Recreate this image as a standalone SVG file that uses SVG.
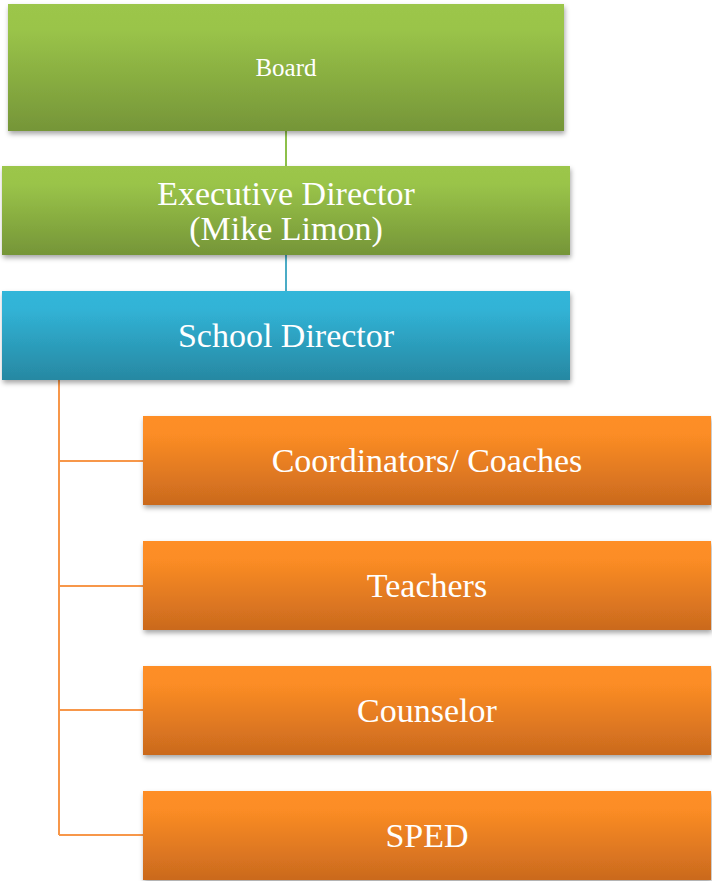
<svg xmlns="http://www.w3.org/2000/svg" width="712" height="881" viewBox="0 0 712 881">
  <defs>
    <linearGradient id="gGreen" x1="0" y1="0" x2="0" y2="1">
      <stop offset="0" stop-color="#9CC64B"/>
      <stop offset="0.2" stop-color="#9AC449"/>
      <stop offset="1" stop-color="#759538"/>
    </linearGradient>
    <linearGradient id="gBlue" x1="0" y1="0" x2="0" y2="1">
      <stop offset="0" stop-color="#31B6D9"/>
      <stop offset="0.2" stop-color="#31B3D6"/>
      <stop offset="1" stop-color="#2788A2"/>
    </linearGradient>
    <linearGradient id="gOrange" x1="0" y1="0" x2="0" y2="1">
      <stop offset="0" stop-color="#FE8E25"/>
      <stop offset="0.2" stop-color="#FC8D25"/>
      <stop offset="1" stop-color="#CA691E"/>
    </linearGradient>
    <filter id="shadow" x="-5%" y="-10%" width="110%" height="130%">
      <feDropShadow dx="1" dy="3" stdDeviation="2.5" flood-color="#000" flood-opacity="0.35"/>
    </filter>
  </defs>
  <style>
    .lbl { font-family: "Liberation Serif", "DejaVu Serif", serif; fill: #FFFFFF; text-anchor: middle; }
    .big { font-size: 34px; }
    .small { font-size: 25px; }
    .green { fill: url(#gGreen); filter: url(#shadow); }
    .blue { fill: url(#gBlue); filter: url(#shadow); }
    .orange { fill: url(#gOrange); filter: url(#shadow); }
    .conn { fill: none; stroke-width: 2; }
  </style>

  <g id="connectors">
    <line class="conn" x1="286" y1="130" x2="286" y2="167" stroke="#8DC04A"/>
    <line class="conn" x1="286" y1="254" x2="286" y2="292" stroke="#4BACC6"/>
    <path class="conn" stroke="#F7974A" d="M59,379 V835 M59,461 H144 M59,586 H144 M59,710 H144 M59,835 H144"/>
  </g>

  <g id="board">
    <rect class="green" x="8" y="4" width="556" height="127"/>
    <text class="lbl small" x="286" y="76">Board</text>
  </g>

  <g id="executive-director">
    <rect class="green" x="2" y="166" width="568" height="89"/>
    <text class="lbl big" x="286" y="205">Executive Director</text>
    <text class="lbl big" x="286" y="240">(Mike Limon)</text>
  </g>

  <g id="school-director">
    <rect class="blue" x="2" y="291" width="568" height="89"/>
    <text class="lbl big" x="286" y="347">School Director</text>
  </g>

  <g id="coordinators">
    <rect class="orange" x="143" y="416" width="568" height="89"/>
    <text class="lbl big" x="427" y="472">Coordinators/ Coaches</text>
  </g>

  <g id="teachers">
    <rect class="orange" x="143" y="541" width="568" height="89"/>
    <text class="lbl big" x="427" y="597">Teachers</text>
  </g>

  <g id="counselor">
    <rect class="orange" x="143" y="666" width="568" height="89"/>
    <text class="lbl big" x="427" y="722">Counselor</text>
  </g>

  <g id="sped">
    <rect class="orange" x="143" y="791" width="568" height="89"/>
    <text class="lbl big" x="427" y="847">SPED</text>
  </g>
</svg>
